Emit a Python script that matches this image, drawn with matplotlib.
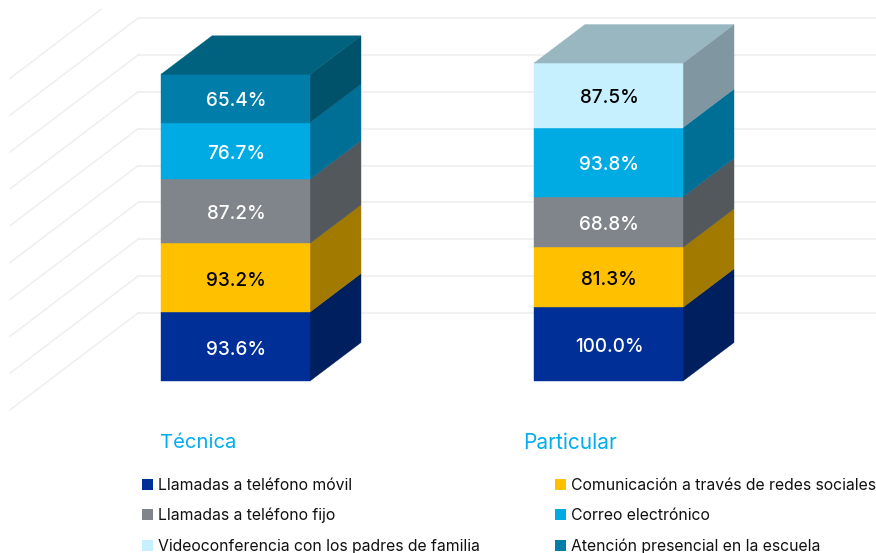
import matplotlib
matplotlib.use('Agg')
from matplotlib import pyplot as plt
from matplotlib.patches import Polygon, Rectangle

plt.rcParams['font.family'] = ['Inter', 'DejaVu Sans']

# the values, bottom segment first
series = ['Llamadas a teléfono móvil', 'Comunicación a través de redes sociales',
          'Llamadas a teléfono fijo', 'Correo electrónico',
          'Videoconferencia con los padres de familia', 'Atención presencial en la escuela']
tecnica_segments = ['movil', 'redes', 'fijo', 'correo', 'presencial']
tecnica_values = [93.6, 93.2, 87.2, 76.7, 65.4]
particular_segments = ['movil', 'redes', 'fijo', 'correo', 'video']
particular_values = [100.0, 81.3, 68.8, 93.8, 87.5]
grid_levels = [0, 50, 100, 150, 200, 250, 300, 350, 400, 450]

# front, side, text colour for every segment
colours = {
    'movil': ('#003097', '#001F5F', 'white'),
    'redes': ('#FFC000', '#A37A00', 'black'),
    'fijo': ('#7F858A', '#53585C', 'white'),
    'correo': ('#00ABE4', '#006F96', 'white'),
    'video': ('#C7F0FF', '#8096A1', 'black'),
    'presencial': ('#007DA9', '#00526A', 'white'),
}
legend_colours = ['#003097', '#FFC000', '#7F858A', '#00ABE4', '#C7F0FF', '#007DA9']

W, H = 876, 553
BASE_PX = 381     # pixel row of the value 0 on the front of the bars
PX_PER_UNIT = 0.737
BAR_W = 149
DEPTH_X = 51
DEPTH_Y = 38.5 / PX_PER_UNIT
WALL_BASE = (BASE_PX - 313) / PX_PER_UNIT


def row(px):
    # pixel row -> y value
    return (BASE_PX - px) / PX_PER_UNIT


fig = plt.figure(figsize=(W / 100, H / 100), dpi=100)
ax = fig.add_axes([0, 0, 1, 1])
ax.set_xlim(0, W)
ax.set_ylim(row(H), row(0))
ax.axis('off')

# back wall and floor lines, the top one runs off the picture
clip = Rectangle((0, row(H)), W, row(9) - row(H), transform=ax.transData)
for level in grid_levels:
    y = WALL_BASE + level
    ax.plot([138, W], [y, y], color='#EDEDED', lw=1.1, zorder=1)
    diag = ax.plot([138, 10], [y, y - 97 / PX_PER_UNIT], color='#EEEEEE', lw=1.0, zorder=1)
    diag[0].set_clip_path(clip)


def draw_bar(x, segments, values, top_colour):
    bottom = 0
    for name, value in zip(segments, values):
        front, side, text_colour = colours[name]
        top = bottom + value
        ax.add_patch(Polygon([(x, bottom), (x + BAR_W, bottom), (x + BAR_W, top), (x, top)],
                             fc=front, ec=front, lw=0.3, zorder=3))
        ax.add_patch(Polygon([(x + BAR_W, bottom), (x + BAR_W + DEPTH_X, bottom + DEPTH_Y),
                              (x + BAR_W + DEPTH_X, top + DEPTH_Y), (x + BAR_W, top)],
                             fc=side, ec=side, lw=0.3, zorder=2))
        # the labels sit a little under the middle of the segment
        ax.text(x + BAR_W / 2 + 0.5, bottom + value / 2 - 3 / PX_PER_UNIT, '%.1f%%' % value,
                color=text_colour, fontsize=13.6, fontweight='medium',
                ha='center', va='center', zorder=4)
        bottom = top
    # lid
    ax.add_patch(Polygon([(x, bottom), (x + BAR_W, bottom),
                          (x + BAR_W + DEPTH_X, bottom + DEPTH_Y), (x + DEPTH_X, bottom + DEPTH_Y)],
                         fc=top_colour, ec=top_colour, lw=0.3, zorder=3))


draw_bar(161, tecnica_segments, tecnica_values, '#00627F')
draw_bar(534, particular_segments, particular_values, '#98B7C1')

ax.text(160, row(443), 'Técnica', color='#00AEEF', fontsize=14.6, ha='left', va='center')
ax.text(523, row(443), 'Particular', color='#00AEEF', fontsize=15, ha='left', va='center')

# legend, filled row by row over two columns
for i, name in enumerate(series):
    x = [142, 555][i % 2]
    p = [484, 514, 545][i // 2]
    ax.add_patch(Rectangle((x, row(p + 5.5)), 11, 11 / PX_PER_UNIT, fc=legend_colours[i], ec='none'))
    ax.text(x + 16, row(p + 1), name, color='#111111', fontsize=11.35, ha='left', va='center')

fig.savefig('out.png', dpi=100)
